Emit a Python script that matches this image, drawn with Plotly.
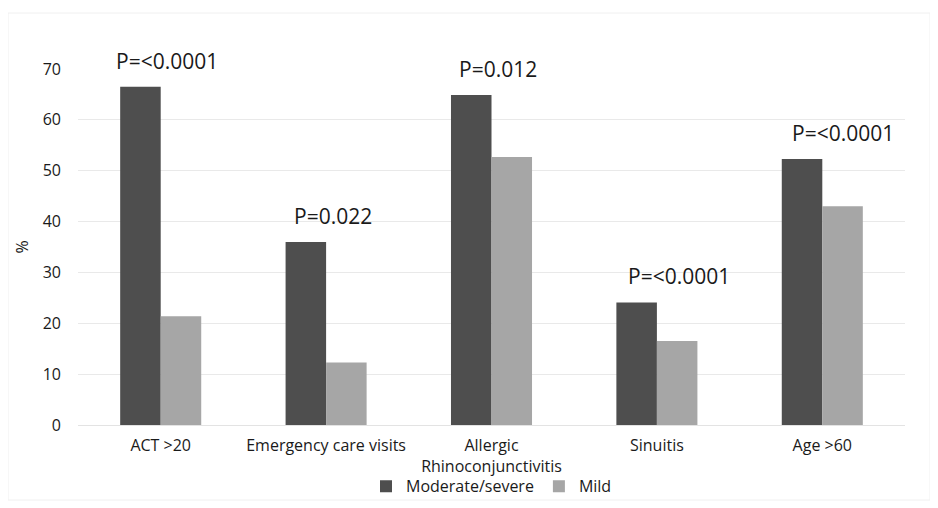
import plotly.graph_objects as go

categories = ["ACT >20", "Emergency care visits", "Allergic<br>Rhinoconjunctivitis", "Sinuitis", "Age >60"]
moderate_severe = [66.5, 36.0, 64.9, 24.1, 52.3]
mild = [21.4, 12.3, 52.7, 16.5, 43.0]
p_values = ["P=<0.0001", "P=0.022", "P=0.012", "P=<0.0001", "P=<0.0001"]
y_ticks = [0, 10, 20, 30, 40, 50, 60, 70]

FONT = "Open Sans, sans-serif"
DARK = "#4e4e4e"
LIGHT = "#a6a6a6"
TXT = "#1a1a1a"

fig = go.Figure()
fig.add_trace(go.Bar(x=categories, y=moderate_severe, name="Moderate/severe",
                     marker=dict(color=DARK, line=dict(width=0))))
fig.add_trace(go.Bar(x=categories, y=mild, name="Mild",
                     marker=dict(color=LIGHT, line=dict(width=0))))

xshifts = [6, 7, 6, 22, 21]
for cat, val, txt, xs in zip(categories, moderate_severe, p_values, xshifts):
    fig.add_annotation(x=cat, y=val, text=txt, showarrow=False,
                       xanchor="center", yanchor="middle", xshift=xs, yshift=26,
                       font=dict(family=FONT, size=21, color=TXT))

fig.update_layout(
    width=938, height=508,
    margin=dict(l=70, r=41, t=61, b=91, autoexpand=False),
    paper_bgcolor="white", plot_bgcolor="white",
    barmode="group", bargap=0.51, bargroupgap=0,
    font=dict(family=FONT, size=16, color=TXT),
    legend=dict(orientation="h", x=0.5, xanchor="center", y=-0.172, yanchor="middle",
                font=dict(family=FONT, size=16, color=TXT), itemwidth=30,
                bgcolor="rgba(0,0,0,0)", traceorder="normal",
                tracegroupgap=0, borderwidth=0),
    showlegend=True,
)
fig.update_yaxes(range=[0, 70], tickvals=y_ticks, showgrid=True, gridcolor="#e9e9e9",
                 gridwidth=1, zeroline=False, showline=False, ticks="",
                 ticklabelstandoff=16,
                 title=dict(text="%", font=dict(family=FONT, size=16), standoff=10),
                 tickfont=dict(family=FONT, size=16, color=TXT))
fig.update_xaxes(showline=True, linecolor="#e3e3e3", linewidth=1, ticks="",
                 tickfont=dict(family=FONT, size=16, color=TXT),
                 ticklabelstandoff=6)

fig.add_shape(type="rect", xref="paper", yref="paper",
              x0=-70/827, x1=(922-70)/827, y0=-(492-417)/356, y1=(417-5)/356,
              line=dict(color="#f0f0f0", width=1), fillcolor="rgba(0,0,0,0)", layer="below")

fig.write_html("out.html")
